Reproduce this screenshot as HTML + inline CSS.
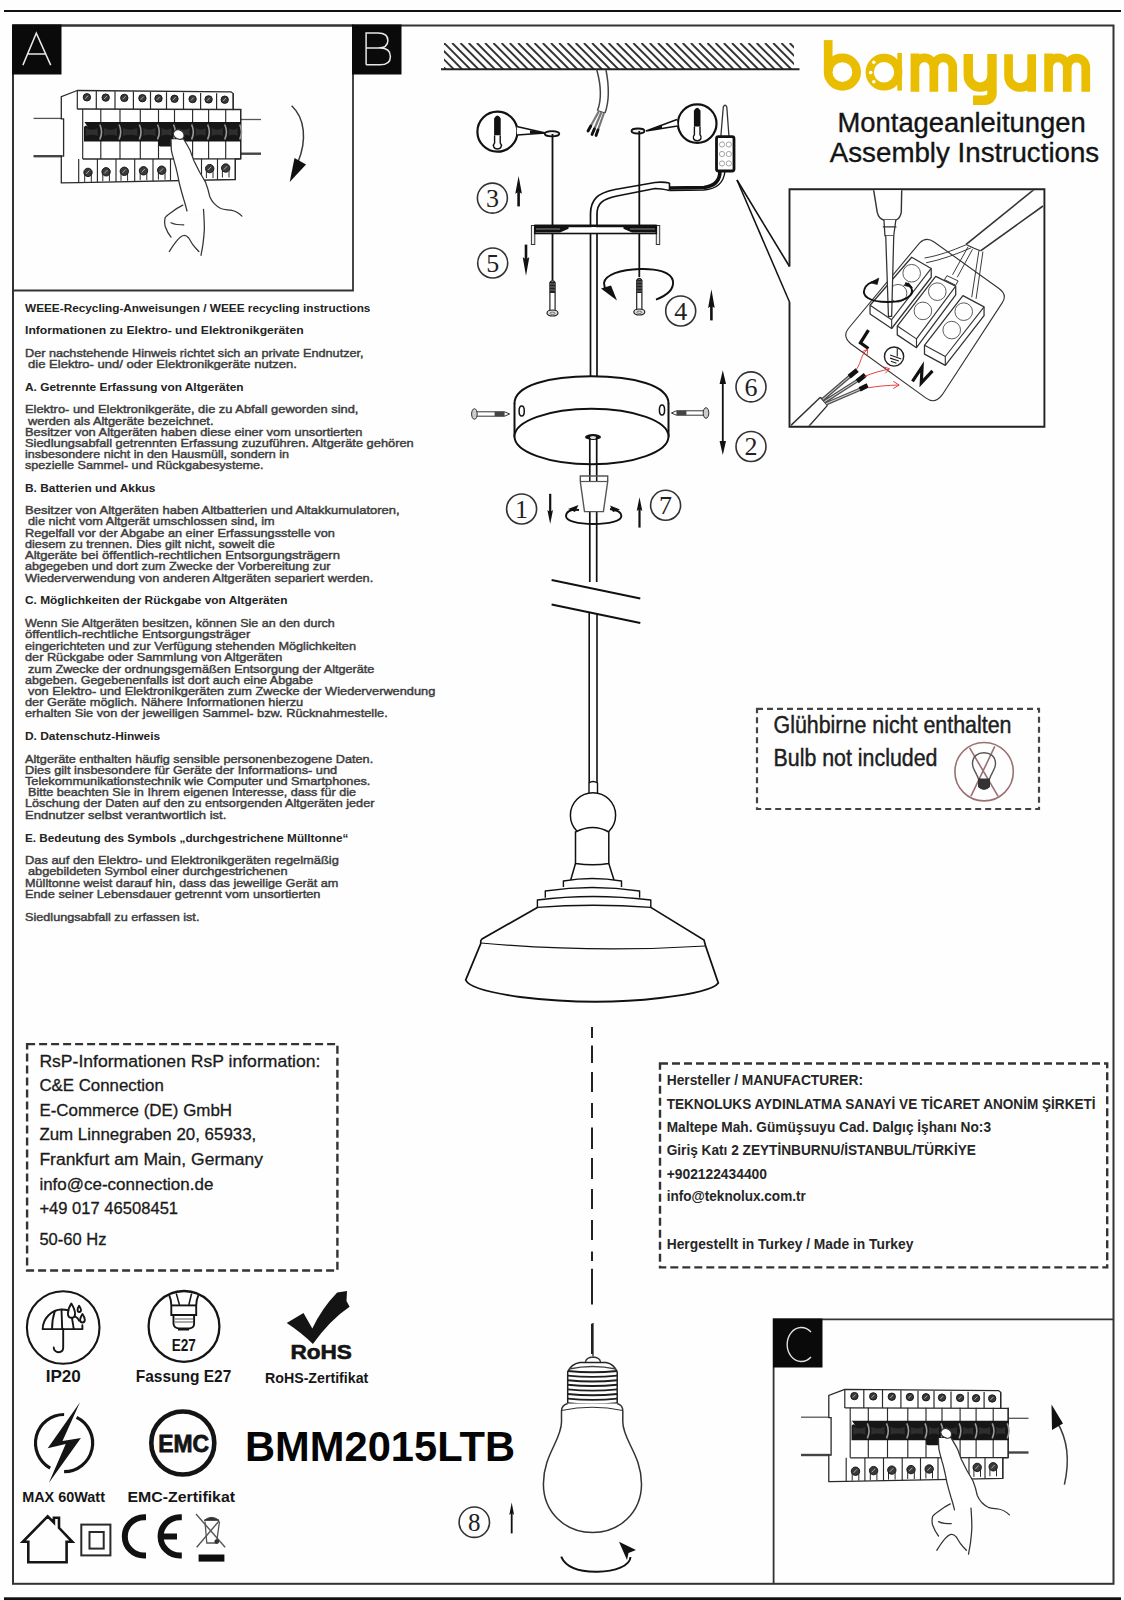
<!DOCTYPE html>
<html><head><meta charset="utf-8"><style>
html,body{margin:0;padding:0;background:#fff;width:1124px;height:1600px;overflow:hidden;}
svg{position:absolute;left:0;top:0;}
</style></head><body>
<svg width="1124" height="1600" viewBox="0 0 1124 1600" font-family="Liberation Sans">
<rect width="1124" height="1600" fill="#fefefe"/>
<line x1="4" y1="11" x2="1121" y2="11" stroke="#111" stroke-width="2.2"/>
<rect x="13" y="25.5" width="1100.5" height="1558.3" fill="none" stroke="#333" stroke-width="2"/>
<rect x="4" y="1597.3" width="1117" height="4" fill="#111"/>
<polyline points="13,25.5 353,25.5 353,290.5 13,290.5" fill="none" stroke="#333" stroke-width="1.8"/>
<rect x="12" y="24.5" width="49.5" height="50" fill="#0a0a0a"/>
<path d="M22.9,65.1 L36.3,33.1 L50.7,65.1 M27.2,53.9 L46.4,53.9" fill="none" stroke="#e8e8e8" stroke-width="1.5"/>
<rect x="352" y="24.5" width="49.5" height="50" fill="#0a0a0a"/>
<path d="M366.1,64.8 L366.1,33.1 L378,33.1 Q387.9,33.1 387.9,40.5 Q387.9,48 378,48 L366.1,48 M378,48 L380,48 Q390.4,48 390.4,56.4 Q390.4,64.8 380,64.8 L366.1,64.8" fill="none" stroke="#e8e8e8" stroke-width="1.5"/>
<g transform="translate(0,0) scale(1.0)">
<line x1="33.5" y1="118.4" x2="62" y2="118.4" stroke="#555" stroke-width="1.3"/>
<line x1="33.5" y1="156.2" x2="62" y2="156.2" stroke="#444" stroke-width="2.4"/>
<line x1="240.7" y1="119.5" x2="261" y2="119.5" stroke="#555" stroke-width="1.3"/>
<line x1="240.7" y1="153.7" x2="261" y2="153.7" stroke="#444" stroke-width="2.4"/>
<path d="M77.3,90.5 L61.3,96.6 L61.3,118.8 L63.6,118.8 L63.6,156.2 L61.3,156.2 L61.3,182.9 L78.7,182.6 L235.3,179.5 L235.3,159 L240.7,158.8 L240.7,109.5 L233.2,109.5 L233.2,93.5 L231,91.8 Z" fill="#fff" stroke="#2a2a2a" stroke-width="1.3"/>
<line x1="77.3" y1="109" x2="233.2" y2="109.5" stroke="#2a2a2a" stroke-width="1.3"/>
<line x1="77.3" y1="90.5" x2="77.3" y2="109.2" stroke="#2a2a2a" stroke-width="1.2"/>
<line x1="96.3" y1="90.8" x2="96.3" y2="109.2" stroke="#2a2a2a" stroke-width="1.2"/>
<line x1="115" y1="91.2" x2="115" y2="109.2" stroke="#2a2a2a" stroke-width="1.2"/>
<line x1="133.4" y1="91.5" x2="133.4" y2="109.2" stroke="#2a2a2a" stroke-width="1.2"/>
<line x1="150.5" y1="91.9" x2="150.5" y2="109.2" stroke="#2a2a2a" stroke-width="1.2"/>
<line x1="166.5" y1="92.2" x2="166.5" y2="109.2" stroke="#2a2a2a" stroke-width="1.2"/>
<line x1="183.5" y1="92.6" x2="183.5" y2="109.2" stroke="#2a2a2a" stroke-width="1.2"/>
<line x1="200.6" y1="93.0" x2="200.6" y2="109.2" stroke="#2a2a2a" stroke-width="1.2"/>
<line x1="216.6" y1="93.3" x2="216.6" y2="109.2" stroke="#2a2a2a" stroke-width="1.2"/>
<line x1="233.2" y1="93.7" x2="233.2" y2="109.2" stroke="#2a2a2a" stroke-width="1.2"/>
<circle cx="86.9" cy="97.3" r="3.7" fill="#3a3a3a" stroke="#111" stroke-width="0.9"/>
<path d="M85.3,98.7 L88.1,95.7" stroke="#bbb" stroke-width="0.9"/>
<circle cx="105.7" cy="97.6" r="3.7" fill="#3a3a3a" stroke="#111" stroke-width="0.9"/>
<path d="M104.1,99.0 L106.9,96.0" stroke="#bbb" stroke-width="0.9"/>
<circle cx="124.3" cy="97.9" r="3.7" fill="#3a3a3a" stroke="#111" stroke-width="0.9"/>
<path d="M122.7,99.3 L125.5,96.3" stroke="#bbb" stroke-width="0.9"/>
<circle cx="142.4" cy="98.2" r="3.7" fill="#3a3a3a" stroke="#111" stroke-width="0.9"/>
<path d="M140.8,99.6 L143.6,96.6" stroke="#bbb" stroke-width="0.9"/>
<circle cx="158.5" cy="98.5" r="3.7" fill="#3a3a3a" stroke="#111" stroke-width="0.9"/>
<path d="M156.9,99.9 L159.7,96.9" stroke="#bbb" stroke-width="0.9"/>
<circle cx="174.5" cy="98.8" r="3.7" fill="#3a3a3a" stroke="#111" stroke-width="0.9"/>
<path d="M172.9,100.2 L175.7,97.2" stroke="#bbb" stroke-width="0.9"/>
<circle cx="192.6" cy="99.1" r="3.7" fill="#3a3a3a" stroke="#111" stroke-width="0.9"/>
<path d="M191.0,100.5 L193.8,97.5" stroke="#bbb" stroke-width="0.9"/>
<circle cx="208.6" cy="99.4" r="3.7" fill="#3a3a3a" stroke="#111" stroke-width="0.9"/>
<path d="M207.0,100.8 L209.8,97.8" stroke="#bbb" stroke-width="0.9"/>
<circle cx="224.7" cy="99.7" r="3.7" fill="#3a3a3a" stroke="#111" stroke-width="0.9"/>
<path d="M223.1,101.1 L225.9,98.1" stroke="#bbb" stroke-width="0.9"/>
<line x1="82.7" y1="159" x2="240.7" y2="158.8" stroke="#2a2a2a" stroke-width="1.3"/>
<line x1="82.7" y1="109" x2="82.7" y2="159" stroke="#2a2a2a" stroke-width="1.15"/>
<line x1="100.8" y1="109" x2="100.8" y2="159" stroke="#2a2a2a" stroke-width="1.15"/>
<line x1="120" y1="109" x2="120" y2="159" stroke="#2a2a2a" stroke-width="1.15"/>
<line x1="140.3" y1="109" x2="140.3" y2="159" stroke="#2a2a2a" stroke-width="1.15"/>
<line x1="158.5" y1="109" x2="158.5" y2="159" stroke="#2a2a2a" stroke-width="1.15"/>
<line x1="174.5" y1="109" x2="174.5" y2="159" stroke="#2a2a2a" stroke-width="1.15"/>
<line x1="192.6" y1="109" x2="192.6" y2="159" stroke="#2a2a2a" stroke-width="1.15"/>
<line x1="208.6" y1="109" x2="208.6" y2="159" stroke="#2a2a2a" stroke-width="1.15"/>
<line x1="225.7" y1="109" x2="225.7" y2="159" stroke="#2a2a2a" stroke-width="1.15"/>
<line x1="240.7" y1="109" x2="240.7" y2="159" stroke="#2a2a2a" stroke-width="1.15"/>
<path d="M84,122 L241,122 L241,141.5 L84,141.5 Z" fill="#161616"/>
<path d="M85.7,128 Q91.8,131.5 97.8,128 L97.8,136 Q91.8,133.5 85.7,136 Z" fill="#2e2e2e"/>
<path d="M99.8,124.5 Q103.3,131.8 99.8,139.5" fill="none" stroke="#9a9a9a" stroke-width="1.6"/>
<path d="M103.8,128 Q110.4,131.5 117.0,128 L117.0,136 Q110.4,133.5 103.8,136 Z" fill="#2e2e2e"/>
<path d="M119.0,124.5 Q122.5,131.8 119.0,139.5" fill="none" stroke="#9a9a9a" stroke-width="1.6"/>
<path d="M123.0,128 Q130.2,131.5 137.3,128 L137.3,136 Q130.2,133.5 123.0,136 Z" fill="#2e2e2e"/>
<path d="M139.3,124.5 Q142.8,131.8 139.3,139.5" fill="none" stroke="#9a9a9a" stroke-width="1.6"/>
<path d="M143.3,128 Q149.4,131.5 155.5,128 L155.5,136 Q149.4,133.5 143.3,136 Z" fill="#2e2e2e"/>
<path d="M157.5,124.5 Q161.0,131.8 157.5,139.5" fill="none" stroke="#9a9a9a" stroke-width="1.6"/>
<path d="M161.5,128 Q166.5,131.5 171.5,128 L171.5,136 Q166.5,133.5 161.5,136 Z" fill="#2e2e2e"/>
<path d="M173.5,124.5 Q177.0,131.8 173.5,139.5" fill="none" stroke="#9a9a9a" stroke-width="1.6"/>
<path d="M177.5,128 Q183.6,131.5 189.6,128 L189.6,136 Q183.6,133.5 177.5,136 Z" fill="#2e2e2e"/>
<path d="M191.6,124.5 Q195.1,131.8 191.6,139.5" fill="none" stroke="#9a9a9a" stroke-width="1.6"/>
<path d="M195.6,128 Q200.6,131.5 205.6,128 L205.6,136 Q200.6,133.5 195.6,136 Z" fill="#2e2e2e"/>
<path d="M207.6,124.5 Q211.1,131.8 207.6,139.5" fill="none" stroke="#9a9a9a" stroke-width="1.6"/>
<path d="M211.6,128 Q217.1,131.5 222.7,128 L222.7,136 Q217.1,133.5 211.6,136 Z" fill="#2e2e2e"/>
<path d="M224.7,124.5 Q228.2,131.8 224.7,139.5" fill="none" stroke="#9a9a9a" stroke-width="1.6"/>
<path d="M228.7,128 Q233.2,131.5 237.7,128 L237.7,136 Q233.2,133.5 228.7,136 Z" fill="#2e2e2e"/>
<path d="M239.7,124.5 Q243.2,131.8 239.7,139.5" fill="none" stroke="#9a9a9a" stroke-width="1.6"/>
<path d="M84,121.5 L84,127 Q86,124 88,127" fill="#fff"/>
<rect x="158.5" y="138" width="16" height="8.5" rx="2" fill="#161616"/>
<line x1="78.7" y1="159" x2="78.7" y2="182.6" stroke="#2a2a2a" stroke-width="1.15"/>
<line x1="97.4" y1="159" x2="97.4" y2="182.3" stroke="#2a2a2a" stroke-width="1.15"/>
<line x1="116" y1="159" x2="116" y2="181.9" stroke="#2a2a2a" stroke-width="1.15"/>
<line x1="134.7" y1="159" x2="134.7" y2="181.6" stroke="#2a2a2a" stroke-width="1.15"/>
<line x1="153" y1="159" x2="153" y2="181.3" stroke="#2a2a2a" stroke-width="1.15"/>
<line x1="170.5" y1="159" x2="170.5" y2="180.9" stroke="#2a2a2a" stroke-width="1.15"/>
<line x1="188" y1="159" x2="188" y2="180.6" stroke="#2a2a2a" stroke-width="1.15"/>
<line x1="201.5" y1="159" x2="201.5" y2="180.3" stroke="#2a2a2a" stroke-width="1.15"/>
<line x1="217.5" y1="159" x2="217.5" y2="180.0" stroke="#2a2a2a" stroke-width="1.15"/>
<line x1="235.3" y1="159" x2="235.3" y2="179.6" stroke="#2a2a2a" stroke-width="1.15"/>
<path d="M84.7,172.4 L84.7,181.9 M91.3,172.4 L91.3,181.9" stroke="#2a2a2a" stroke-width="1"/>
<circle cx="88" cy="172.4" r="4.2" fill="#3a3a3a" stroke="#111" stroke-width="0.9"/>
<path d="M86.2,174.0 L89.4,170.6" stroke="#bbb" stroke-width="0.9"/>
<path d="M102.8,171.8 L102.8,181.3 M109.4,171.8 L109.4,181.3" stroke="#2a2a2a" stroke-width="1"/>
<circle cx="106.1" cy="171.8" r="4.2" fill="#3a3a3a" stroke="#111" stroke-width="0.9"/>
<path d="M104.3,173.4 L107.5,170.0" stroke="#bbb" stroke-width="0.9"/>
<path d="M121.0,171.3 L121.0,180.8 M127.6,171.3 L127.6,180.8" stroke="#2a2a2a" stroke-width="1"/>
<circle cx="124.3" cy="171.3" r="4.2" fill="#3a3a3a" stroke="#111" stroke-width="0.9"/>
<path d="M122.5,172.9 L125.7,169.5" stroke="#bbb" stroke-width="0.9"/>
<path d="M140.2,170.8 L140.2,180.2 M146.8,170.8 L146.8,180.2" stroke="#2a2a2a" stroke-width="1"/>
<circle cx="143.5" cy="170.8" r="4.2" fill="#3a3a3a" stroke="#111" stroke-width="0.9"/>
<path d="M141.7,172.3 L144.9,168.9" stroke="#bbb" stroke-width="0.9"/>
<path d="M158.4,170.2 L158.4,179.7 M165.0,170.2 L165.0,179.7" stroke="#2a2a2a" stroke-width="1"/>
<circle cx="161.7" cy="170.2" r="4.2" fill="#3a3a3a" stroke="#111" stroke-width="0.9"/>
<path d="M159.9,171.8 L163.1,168.4" stroke="#bbb" stroke-width="0.9"/>
<path d="M206.4,168.6 L206.4,178.1 M213.0,168.6 L213.0,178.1" stroke="#2a2a2a" stroke-width="1"/>
<circle cx="209.7" cy="168.6" r="4.2" fill="#3a3a3a" stroke="#111" stroke-width="0.9"/>
<path d="M207.9,170.2 L211.1,166.8" stroke="#bbb" stroke-width="0.9"/>
<path d="M222.4,168.0 L222.4,177.5 M229.0,168.0 L229.0,177.5" stroke="#2a2a2a" stroke-width="1"/>
<circle cx="225.7" cy="168.0" r="4.2" fill="#3a3a3a" stroke="#111" stroke-width="0.9"/>
<path d="M223.9,169.6 L227.1,166.2" stroke="#bbb" stroke-width="0.9"/>
<path d="M171,139.3 L171.4,150.3 L174.4,162.1 L177.8,175.6 L179.5,184 L183.7,199.2 L187,211 L203.5,209.3 L214,203.4 L209.8,196.7 L205.6,182.4 L199.7,172.2 L193.8,160.4 L190.4,151.1 L183.7,139.3 Z" fill="#fff"/>
<path d="M171,139.3 C171,144 171.2,148 171.4,150.3 C172.3,155 173.5,158.5 174.4,162.1 C176,167 177,172 177.8,175.6 C178.5,179 179,182 179.5,184 C181,190 182.3,194.5 183.7,199.2 C185,203 186,207 187,211" fill="none" stroke="#333" stroke-width="1.25" stroke-linecap="round"/>
<path d="M183.7,139.3 C186,143 188.5,147 190.4,151.1 C191.6,154.5 192.6,157.5 193.8,160.4 C195.8,164.5 197.7,168.5 199.7,172.2 C202,176 204,179.5 205.6,182.4 C207.5,187 208.8,192 209.8,196.7 C211,199.5 212.3,201.5 214,203.4 C216,205.5 218,207.3 220.8,208.5 C224,209.6 227,209.6 230.9,210.2 C235,211 239,213 241.9,216.1" fill="none" stroke="#333" stroke-width="1.25" stroke-linecap="round"/>
<path d="M182.8,205.1 C178,207.5 175,209.5 171.9,211.9 C168.5,214.5 166,216 165.1,217.8 C164.3,221 164.5,224 165.1,226.2 C166.5,230 168.5,234 171,237.2" fill="none" stroke="#333" stroke-width="1.25" stroke-linecap="round"/>
<path d="M171,222.8 C173,223.8 175,224.3 176.9,224.5 C179,224.7 181.5,224.9 183.7,224.9" fill="none" stroke="#333" stroke-width="1.25" stroke-linecap="round"/>
<path d="M169.3,251.5 C171.5,248 174,244 176.9,240.6 C179,238 181.5,235.8 183.7,235.5 C186,235.3 187.5,236.5 188.7,238 C190.5,240.5 191.5,243 193,244.8 C195,247.5 197,249.5 198.9,251.5" fill="none" stroke="#333" stroke-width="1.25" stroke-linecap="round"/>
<path d="M203.5,209.3 C204,217 204.5,224 204.3,230.4 C204,235 203.6,239 203.1,243.1 C202.6,247 201.8,251 201,255.3" fill="none" stroke="#333" stroke-width="1.25" stroke-linecap="round"/>
<path d="M173.2,133.5 Q175,128.8 179.5,130 Q184.5,131.5 184,136.5 Q183,140 179,139.3 Q174,138 173.2,133.5 Z" fill="#fff" stroke="#333" stroke-width="1.1"/>
</g>
<path d="M291.6,105.7 C305,118 307,140 298,162" fill="none" stroke="#3a3a3a" stroke-width="1.5"/>
<path d="M289.7,182 L294.5,158 L306,164.5 Z" fill="#111"/>
<text x="25.0" y="312.0" font-size="11.8" font-family="Liberation Sans" font-weight="bold" fill="#222" textLength="345.4" lengthAdjust="spacingAndGlyphs" >WEEE-Recycling-Anweisungen / WEEE recycling instructions</text>
<text x="25.0" y="334.0" font-size="11.8" font-family="Liberation Sans" font-weight="bold" fill="#222" textLength="278.6" lengthAdjust="spacingAndGlyphs" >Informationen zu Elektro- und Elektronikgeräten</text>
<text x="25.0" y="357.0" font-size="11.6" font-family="Liberation Sans" fill="#3e3e3e" textLength="338.6" lengthAdjust="spacingAndGlyphs" stroke="#3e3e3e" stroke-width="0.45">Der nachstehende Hinweis richtet sich an private Endnutzer,</text>
<text x="28.0" y="368.0" font-size="11.6" font-family="Liberation Sans" fill="#3e3e3e" textLength="269.0" lengthAdjust="spacingAndGlyphs" stroke="#3e3e3e" stroke-width="0.45">die Elektro- und/ oder Elektronikgeräte nutzen.</text>
<text x="25.0" y="391.0" font-size="11.8" font-family="Liberation Sans" font-weight="bold" fill="#222" textLength="218.5" lengthAdjust="spacingAndGlyphs" >A. Getrennte Erfassung von Altgeräten</text>
<text x="25.0" y="413.0" font-size="11.6" font-family="Liberation Sans" fill="#3e3e3e" textLength="333.4" lengthAdjust="spacingAndGlyphs" stroke="#3e3e3e" stroke-width="0.45">Elektro- und Elektronikgeräte, die zu Abfall geworden sind,</text>
<text x="28.0" y="424.6" font-size="11.6" font-family="Liberation Sans" fill="#3e3e3e" textLength="185.5" lengthAdjust="spacingAndGlyphs" stroke="#3e3e3e" stroke-width="0.45">werden als Altgeräte bezeichnet.</text>
<text x="25.0" y="435.8" font-size="11.6" font-family="Liberation Sans" fill="#3e3e3e" textLength="337.4" lengthAdjust="spacingAndGlyphs" stroke="#3e3e3e" stroke-width="0.45">Besitzer von Altgeräten haben diese einer vom unsortierten</text>
<text x="25.0" y="446.6" font-size="11.6" font-family="Liberation Sans" fill="#3e3e3e" textLength="388.7" lengthAdjust="spacingAndGlyphs" stroke="#3e3e3e" stroke-width="0.45">Siedlungsabfall getrennten Erfassung zuzuführen. Altgeräte gehören</text>
<text x="25.0" y="457.8" font-size="11.6" font-family="Liberation Sans" fill="#3e3e3e" textLength="264.0" lengthAdjust="spacingAndGlyphs" stroke="#3e3e3e" stroke-width="0.45">insbesondere nicht in den Hausmüll, sondern in</text>
<text x="25.0" y="469.0" font-size="11.6" font-family="Liberation Sans" fill="#3e3e3e" textLength="238.5" lengthAdjust="spacingAndGlyphs" stroke="#3e3e3e" stroke-width="0.45">spezielle Sammel- und Rückgabesysteme.</text>
<text x="25.0" y="491.5" font-size="11.8" font-family="Liberation Sans" font-weight="bold" fill="#222" textLength="130.4" lengthAdjust="spacingAndGlyphs" >B. Batterien und Akkus</text>
<text x="25.0" y="514.0" font-size="11.6" font-family="Liberation Sans" fill="#3e3e3e" textLength="374.7" lengthAdjust="spacingAndGlyphs" stroke="#3e3e3e" stroke-width="0.45">Besitzer von Altgeräten haben Altbatterien und Altakkumulatoren,</text>
<text x="28.0" y="525.0" font-size="11.6" font-family="Liberation Sans" fill="#3e3e3e" textLength="246.7" lengthAdjust="spacingAndGlyphs" stroke="#3e3e3e" stroke-width="0.45">die nicht vom Altgerät umschlossen sind, im</text>
<text x="25.0" y="536.7" font-size="11.6" font-family="Liberation Sans" fill="#3e3e3e" textLength="309.8" lengthAdjust="spacingAndGlyphs" stroke="#3e3e3e" stroke-width="0.45">Regelfall vor der Abgabe an einer Erfassungsstelle von</text>
<text x="25.0" y="547.5" font-size="11.6" font-family="Liberation Sans" fill="#3e3e3e" textLength="249.7" lengthAdjust="spacingAndGlyphs" stroke="#3e3e3e" stroke-width="0.45">diesem zu trennen. Dies gilt nicht, soweit die</text>
<text x="25.0" y="559.0" font-size="11.6" font-family="Liberation Sans" fill="#3e3e3e" textLength="315.0" lengthAdjust="spacingAndGlyphs" stroke="#3e3e3e" stroke-width="0.45">Altgeräte bei öffentlich-rechtlichen Entsorgungsträgern</text>
<text x="25.0" y="570.0" font-size="11.6" font-family="Liberation Sans" fill="#3e3e3e" textLength="305.4" lengthAdjust="spacingAndGlyphs" stroke="#3e3e3e" stroke-width="0.45">abgegeben und dort zum Zwecke der Vorbereitung zur</text>
<text x="25.0" y="581.6" font-size="11.6" font-family="Liberation Sans" fill="#3e3e3e" textLength="348.2" lengthAdjust="spacingAndGlyphs" stroke="#3e3e3e" stroke-width="0.45">Wiederverwendung von anderen Altgeräten separiert werden.</text>
<text x="25.0" y="604.2" font-size="11.8" font-family="Liberation Sans" font-weight="bold" fill="#222" textLength="262.5" lengthAdjust="spacingAndGlyphs" >C. Möglichkeiten der Rückgabe von Altgeräten</text>
<text x="25.0" y="627.0" font-size="11.6" font-family="Liberation Sans" fill="#3e3e3e" textLength="309.8" lengthAdjust="spacingAndGlyphs" stroke="#3e3e3e" stroke-width="0.45">Wenn Sie Altgeräten besitzen, können Sie an den durch</text>
<text x="25.0" y="638.4" font-size="11.6" font-family="Liberation Sans" fill="#3e3e3e" textLength="225.3" lengthAdjust="spacingAndGlyphs" stroke="#3e3e3e" stroke-width="0.45">öffentlich-rechtliche Entsorgungsträger</text>
<text x="25.0" y="649.7" font-size="11.6" font-family="Liberation Sans" fill="#3e3e3e" textLength="331.0" lengthAdjust="spacingAndGlyphs" stroke="#3e3e3e" stroke-width="0.45">eingerichteten und zur Verfügung stehenden Möglichkeiten</text>
<text x="25.0" y="661.0" font-size="11.6" font-family="Liberation Sans" fill="#3e3e3e" textLength="257.3" lengthAdjust="spacingAndGlyphs" stroke="#3e3e3e" stroke-width="0.45">der Rückgabe oder Sammlung von Altgeräten</text>
<text x="28.0" y="672.5" font-size="11.6" font-family="Liberation Sans" fill="#3e3e3e" textLength="346.4" lengthAdjust="spacingAndGlyphs" stroke="#3e3e3e" stroke-width="0.45">zum Zwecke der ordnungsgemäßen Entsorgung der Altgeräte</text>
<text x="25.0" y="683.7" font-size="11.6" font-family="Liberation Sans" fill="#3e3e3e" textLength="288.0" lengthAdjust="spacingAndGlyphs" stroke="#3e3e3e" stroke-width="0.45">abgeben. Gegebenenfalls ist dort auch eine Abgabe</text>
<text x="28.0" y="695.0" font-size="11.6" font-family="Liberation Sans" fill="#3e3e3e" textLength="407.3" lengthAdjust="spacingAndGlyphs" stroke="#3e3e3e" stroke-width="0.45">von Elektro- und Elektronikgeräten zum Zwecke der Wiederverwendung</text>
<text x="25.0" y="706.0" font-size="11.6" font-family="Liberation Sans" fill="#3e3e3e" textLength="278.2" lengthAdjust="spacingAndGlyphs" stroke="#3e3e3e" stroke-width="0.45">der Geräte möglich. Nähere Informationen hierzu</text>
<text x="25.0" y="717.3" font-size="11.6" font-family="Liberation Sans" fill="#3e3e3e" textLength="362.7" lengthAdjust="spacingAndGlyphs" stroke="#3e3e3e" stroke-width="0.45">erhalten Sie von der jeweiligen Sammel- bzw. Rücknahmestelle.</text>
<text x="25.0" y="739.8" font-size="11.8" font-family="Liberation Sans" font-weight="bold" fill="#222" textLength="135.2" lengthAdjust="spacingAndGlyphs" >D. Datenschutz-Hinweis</text>
<text x="25.0" y="762.6" font-size="11.6" font-family="Liberation Sans" fill="#3e3e3e" textLength="348.2" lengthAdjust="spacingAndGlyphs" stroke="#3e3e3e" stroke-width="0.45">Altgeräte enthalten häufig sensible personenbezogene Daten.</text>
<text x="25.0" y="773.8" font-size="11.6" font-family="Liberation Sans" fill="#3e3e3e" textLength="312.2" lengthAdjust="spacingAndGlyphs" stroke="#3e3e3e" stroke-width="0.45">Dies gilt insbesondere für Geräte der Informations- und</text>
<text x="25.0" y="785.0" font-size="11.6" font-family="Liberation Sans" fill="#3e3e3e" textLength="345.4" lengthAdjust="spacingAndGlyphs" stroke="#3e3e3e" stroke-width="0.45">Telekommunikationstechnik wie Computer und Smartphones.</text>
<text x="28.0" y="796.0" font-size="11.6" font-family="Liberation Sans" fill="#3e3e3e" textLength="328.0" lengthAdjust="spacingAndGlyphs" stroke="#3e3e3e" stroke-width="0.45">Bitte beachten Sie in Ihrem eigenen Interesse, dass für die</text>
<text x="25.0" y="807.4" font-size="11.6" font-family="Liberation Sans" fill="#3e3e3e" textLength="349.4" lengthAdjust="spacingAndGlyphs" stroke="#3e3e3e" stroke-width="0.45">Löschung der Daten auf den zu entsorgenden Altgeräten jeder</text>
<text x="25.0" y="819.0" font-size="11.6" font-family="Liberation Sans" fill="#3e3e3e" textLength="201.3" lengthAdjust="spacingAndGlyphs" stroke="#3e3e3e" stroke-width="0.45">Endnutzer selbst verantwortlich ist.</text>
<text x="25.0" y="842.0" font-size="11.8" font-family="Liberation Sans" font-weight="bold" fill="#222" textLength="323.4" lengthAdjust="spacingAndGlyphs" >E. Bedeutung des Symbols „durchgestrichene Mülltonne“</text>
<text x="25.0" y="864.3" font-size="11.6" font-family="Liberation Sans" fill="#3e3e3e" textLength="313.8" lengthAdjust="spacingAndGlyphs" stroke="#3e3e3e" stroke-width="0.45">Das auf den Elektro- und Elektronikgeräten regelmäßig</text>
<text x="28.0" y="875.0" font-size="11.6" font-family="Liberation Sans" fill="#3e3e3e" textLength="259.5" lengthAdjust="spacingAndGlyphs" stroke="#3e3e3e" stroke-width="0.45">abgebildeten Symbol einer durchgestrichenen</text>
<text x="25.0" y="886.7" font-size="11.6" font-family="Liberation Sans" fill="#3e3e3e" textLength="313.4" lengthAdjust="spacingAndGlyphs" stroke="#3e3e3e" stroke-width="0.45">Mülltonne weist darauf hin, dass das jeweilige Gerät am</text>
<text x="25.0" y="898.0" font-size="11.6" font-family="Liberation Sans" fill="#3e3e3e" textLength="295.4" lengthAdjust="spacingAndGlyphs" stroke="#3e3e3e" stroke-width="0.45">Ende seiner Lebensdauer getrennt vom unsortierten</text>
<text x="25.0" y="920.8" font-size="11.6" font-family="Liberation Sans" fill="#3e3e3e" textLength="174.4" lengthAdjust="spacingAndGlyphs" stroke="#3e3e3e" stroke-width="0.45">Siedlungsabfall zu erfassen ist.</text>
<clipPath id="hc"><rect x="444" y="43" width="350" height="26.5"/></clipPath>
<g clip-path="url(#hc)" stroke="#333" stroke-width="1.9"><line x1="411.1" y1="43" x2="437.6" y2="69.5"/><line x1="419.3" y1="43" x2="445.8" y2="69.5"/><line x1="427.5" y1="43" x2="454.0" y2="69.5"/><line x1="435.8" y1="43" x2="462.3" y2="69.5"/><line x1="444.0" y1="43" x2="470.5" y2="69.5"/><line x1="452.2" y1="43" x2="478.7" y2="69.5"/><line x1="460.5" y1="43" x2="487.0" y2="69.5"/><line x1="468.7" y1="43" x2="495.2" y2="69.5"/><line x1="476.9" y1="43" x2="503.4" y2="69.5"/><line x1="485.1" y1="43" x2="511.6" y2="69.5"/><line x1="493.4" y1="43" x2="519.9" y2="69.5"/><line x1="501.6" y1="43" x2="528.1" y2="69.5"/><line x1="509.8" y1="43" x2="536.3" y2="69.5"/><line x1="518.1" y1="43" x2="544.6" y2="69.5"/><line x1="526.3" y1="43" x2="552.8" y2="69.5"/><line x1="534.5" y1="43" x2="561.0" y2="69.5"/><line x1="542.8" y1="43" x2="569.3" y2="69.5"/><line x1="551.0" y1="43" x2="577.5" y2="69.5"/><line x1="559.2" y1="43" x2="585.7" y2="69.5"/><line x1="567.5" y1="43" x2="594.0" y2="69.5"/><line x1="575.7" y1="43" x2="602.2" y2="69.5"/><line x1="583.9" y1="43" x2="610.4" y2="69.5"/><line x1="592.1" y1="43" x2="618.6" y2="69.5"/><line x1="600.4" y1="43" x2="626.9" y2="69.5"/><line x1="608.6" y1="43" x2="635.1" y2="69.5"/><line x1="616.8" y1="43" x2="643.3" y2="69.5"/><line x1="625.1" y1="43" x2="651.6" y2="69.5"/><line x1="633.3" y1="43" x2="659.8" y2="69.5"/><line x1="641.5" y1="43" x2="668.0" y2="69.5"/><line x1="649.8" y1="43" x2="676.2" y2="69.5"/><line x1="658.0" y1="43" x2="684.5" y2="69.5"/><line x1="666.2" y1="43" x2="692.7" y2="69.5"/><line x1="674.4" y1="43" x2="700.9" y2="69.5"/><line x1="682.7" y1="43" x2="709.2" y2="69.5"/><line x1="690.9" y1="43" x2="717.4" y2="69.5"/><line x1="699.1" y1="43" x2="725.6" y2="69.5"/><line x1="707.4" y1="43" x2="733.9" y2="69.5"/><line x1="715.6" y1="43" x2="742.1" y2="69.5"/><line x1="723.8" y1="43" x2="750.3" y2="69.5"/><line x1="732.0" y1="43" x2="758.5" y2="69.5"/><line x1="740.3" y1="43" x2="766.8" y2="69.5"/><line x1="748.5" y1="43" x2="775.0" y2="69.5"/><line x1="756.7" y1="43" x2="783.2" y2="69.5"/><line x1="765.0" y1="43" x2="791.5" y2="69.5"/><line x1="773.2" y1="43" x2="799.7" y2="69.5"/><line x1="781.4" y1="43" x2="807.9" y2="69.5"/><line x1="789.7" y1="43" x2="816.2" y2="69.5"/><line x1="797.9" y1="43" x2="824.4" y2="69.5"/><line x1="806.1" y1="43" x2="832.6" y2="69.5"/></g>
<line x1="441" y1="69.3" x2="799.5" y2="69.3" stroke="#222" stroke-width="2"/>
<path d="M596.8,70 C601,85 601.5,100 597.5,110.5" fill="none" stroke="#444" stroke-width="1.5"/>
<path d="M606,70 C609.5,88 609,102 605,113" fill="none" stroke="#444" stroke-width="1.5"/>
<line x1="597.5" y1="110.5" x2="605" y2="113" stroke="#444" stroke-width="1.2"/>
<line x1="599" y1="111" x2="588" y2="131" stroke="#777" stroke-width="2.2"/>
<line x1="590.8" y1="126.0" x2="588" y2="131" stroke="#111" stroke-width="2.8" stroke-linecap="round"/>
<line x1="601.5" y1="112" x2="592" y2="134.5" stroke="#777" stroke-width="2.2"/>
<line x1="594.4" y1="128.9" x2="592" y2="134.5" stroke="#111" stroke-width="2.8" stroke-linecap="round"/>
<line x1="604" y1="113" x2="596" y2="135.5" stroke="#777" stroke-width="2.2"/>
<line x1="598.0" y1="129.9" x2="596" y2="135.5" stroke="#111" stroke-width="2.8" stroke-linecap="round"/>
<circle cx="497.4" cy="131.7" r="20" fill="#fff" stroke="#111" stroke-width="2.2"/>
<path d="M494.09999999999997,118.5 Q497.4,112.5 500.7,118.5 L500.7,135.5 L494.09999999999997,135.5 Z" fill="#111"/>
<path d="M494.59999999999997,135.5 L494.59999999999997,143 C492.4,145 493.4,149 497.4,149 C501.4,149 502.4,145 500.2,143 L500.2,135.5" fill="#fff" stroke="#111" stroke-width="1.4"/>
<path d="M516.7,126.5 L545.5,133 L517.2,135" fill="#fff" stroke="#111" stroke-width="1.6"/>
<path d="M530,130.2 L545.5,133 L530,133.8 Z" fill="#111"/>
<ellipse cx="552" cy="133.8" rx="7.3" ry="2.6" fill="#eee" stroke="#111" stroke-width="1.8"/>
<line x1="552.5" y1="134" x2="552.5" y2="280" stroke="#111" stroke-width="1.8"/>
<circle cx="697.2" cy="123.6" r="19.3" fill="#fff" stroke="#111" stroke-width="2.2"/>
<path d="M693.9000000000001,110.8 Q697.2,104.8 700.5,110.8 L700.5,126.7 L693.9000000000001,126.7 Z" fill="#111"/>
<path d="M694.4000000000001,126.7 L694.4000000000001,134.8 C692.2,136.8 693.2,140.8 697.2,140.8 C701.2,140.8 702.2,136.8 700.0,134.8 L700.0,126.7" fill="#fff" stroke="#111" stroke-width="1.4"/>
<path d="M677,119.5 L646,131 L677.5,126" fill="#fff" stroke="#111" stroke-width="1.6"/>
<path d="M662,125.2 L646,131 L662,128.6 Z" fill="#111"/>
<ellipse cx="638" cy="131" rx="6.5" ry="2.5" fill="#eee" stroke="#111" stroke-width="1.8"/>
<line x1="639.3" y1="131" x2="639.3" y2="277" stroke="#111" stroke-width="1.8"/>
<path d="M720.8,137 L723.3,107 Q725,103.5 726.8,107 L729,137" fill="#fff" stroke="#333" stroke-width="1.3"/>
<rect x="716.5" y="136.7" width="17.5" height="34.3" rx="2" fill="#fff" stroke="#111" stroke-width="2.8"/>
<circle cx="722" cy="144.5" r="2.6" fill="none" stroke="#999" stroke-width="0.9"/>
<circle cx="728.8" cy="144.5" r="2.6" fill="none" stroke="#999" stroke-width="0.9"/>
<circle cx="722" cy="154" r="2.6" fill="none" stroke="#999" stroke-width="0.9"/>
<circle cx="728.8" cy="154" r="2.6" fill="none" stroke="#999" stroke-width="0.9"/>
<circle cx="722" cy="163.5" r="2.6" fill="none" stroke="#999" stroke-width="0.9"/>
<circle cx="728.8" cy="163.5" r="2.6" fill="none" stroke="#999" stroke-width="0.9"/>
<path d="M720,171 C720,180 716,186 704,187.5 L669.5,188" fill="none" stroke="#111" stroke-width="3.6"/>
<path d="M725,171 C724,181 718,189 704,190 L669.5,190.5" fill="none" stroke="#111" stroke-width="1.4"/>
<path d="M669.5,183 C664,182 660,182 655,182.5 L615,189.5 C597,193 590.5,200 590.5,214 L590.5,377" fill="none" stroke="#111" stroke-width="1.7"/>
<path d="M669.5,190.5 C663,189 660,188.5 655,188.5 L617,196 C602,199 597,204 597,214 L597,377" fill="none" stroke="#111" stroke-width="1.7"/>
<line x1="669.5" y1="183" x2="669.5" y2="190.5" stroke="#111" stroke-width="1.6"/>
<rect x="531.4" y="225.5" width="3.4" height="19" fill="#eee" stroke="#333" stroke-width="1"/>
<rect x="656.3" y="225.5" width="3.4" height="19" fill="#eee" stroke="#333" stroke-width="1"/>
<rect x="534.8" y="225.5" width="121.5" height="8" fill="#fff" stroke="#111" stroke-width="1.6"/>
<path d="M535,226 L564,226 C568,226 570,228 568,229 L560,232.5 L535,232.5 Z" fill="#111"/>
<path d="M656,226 L628,226 C624,226 622,228 624,229 L632,232.5 L656,232.5 Z" fill="#111"/>
<line x1="536" y1="229" x2="560" y2="229" stroke="#888" stroke-width="1"/>
<line x1="630" y1="229" x2="655" y2="229" stroke="#888" stroke-width="1"/>
<line x1="534.8" y1="226" x2="656.3" y2="226" stroke="#111" stroke-width="2.4"/>
<rect x="591.5" y="227" width="4.5" height="5" fill="#fff"/>
<path d="M549.9,282.6 Q552.5,278.6 555.1,282.6 L555.1,311 L549.9,311 Z" fill="#fff" stroke="#222" stroke-width="1.2"/>
<rect x="549.9" y="281.6" width="5.2" height="11.399999999999977" fill="#222"/>
<line x1="549.9" y1="284" x2="555.1" y2="284" stroke="#888" stroke-width="0.8"/>
<line x1="549.9" y1="287" x2="555.1" y2="287" stroke="#888" stroke-width="0.8"/>
<line x1="549.9" y1="290" x2="555.1" y2="290" stroke="#888" stroke-width="0.8"/>
<ellipse cx="552.5" cy="313" rx="5.5" ry="3" fill="#ddd" stroke="#222" stroke-width="1.2"/>
<ellipse cx="552.5" cy="313.3" rx="2.5" ry="1.2" fill="none" stroke="#555" stroke-width="0.8"/>
<path d="M636.6999999999999,280.4 Q639.3,276.4 641.9,280.4 L641.9,310 L636.6999999999999,310 Z" fill="#fff" stroke="#222" stroke-width="1.2"/>
<rect x="636.6999999999999" y="279.4" width="5.2" height="13.600000000000023" fill="#222"/>
<line x1="636.6999999999999" y1="282" x2="641.9" y2="282" stroke="#888" stroke-width="0.8"/>
<line x1="636.6999999999999" y1="285" x2="641.9" y2="285" stroke="#888" stroke-width="0.8"/>
<line x1="636.6999999999999" y1="288" x2="641.9" y2="288" stroke="#888" stroke-width="0.8"/>
<line x1="636.6999999999999" y1="291" x2="641.9" y2="291" stroke="#888" stroke-width="0.8"/>
<ellipse cx="639.3" cy="312" rx="5.5" ry="3" fill="#ddd" stroke="#222" stroke-width="1.2"/>
<ellipse cx="639.3" cy="312.3" rx="2.5" ry="1.2" fill="none" stroke="#555" stroke-width="0.8"/>
<path d="M656,299.6 C668,295 674,289 673,281 C671,272 657,268.5 640,269 C620,269.5 605,275 604,283 L605,289" fill="none" stroke="#111" stroke-width="1.9"/>
<path d="M601,288.5 L617,300.5 L611,285.5 Z" fill="#111"/>
<circle cx="492.4" cy="198.1" r="15" fill="none" stroke="#333" stroke-width="1.6"/>
<text x="492.4" y="206.9" font-size="26" font-family="Liberation Serif" fill="#222" text-anchor="middle">3</text>
<line x1="518.6" y1="191.7" x2="518.6" y2="206.4" stroke="#111" stroke-width="2.6"/>
<path d="M518.6,176 L515.3000000000001,193.7 L518.6,191.7 L521.9,193.7 Z" fill="#111"/>
<circle cx="492.7" cy="263" r="15" fill="none" stroke="#333" stroke-width="1.6"/>
<text x="492.7" y="271.8" font-size="26" font-family="Liberation Serif" fill="#222" text-anchor="middle">5</text>
<line x1="526" y1="259.2" x2="526" y2="244.6" stroke="#111" stroke-width="2.6"/>
<path d="M526,275.7 L522.7,257.2 L526,259.2 L529.3,257.2 Z" fill="#111"/>
<circle cx="680.7" cy="311" r="15" fill="none" stroke="#333" stroke-width="1.6"/>
<text x="680.7" y="319.8" font-size="26" font-family="Liberation Serif" fill="#222" text-anchor="middle">4</text>
<line x1="711.4" y1="306" x2="711.4" y2="320.4" stroke="#111" stroke-width="2.6"/>
<path d="M711.4,289.3 L708.1,308 L711.4,306 L714.6999999999999,308 Z" fill="#111"/>
<path d="M514.5,403.5 C514.5,385 550,376.3 591.5,376.3 C633,376.3 668.5,385 668.5,403.5" fill="none" stroke="#111" stroke-width="2"/>
<line x1="514.5" y1="403" x2="514.5" y2="437" stroke="#111" stroke-width="2"/>
<line x1="668.5" y1="403" x2="668.5" y2="437" stroke="#111" stroke-width="2"/>
<ellipse cx="591.5" cy="436.5" rx="77" ry="27.7" fill="#fff" stroke="#111" stroke-width="2"/>
<ellipse cx="521.7" cy="411" rx="2.6" ry="5" fill="none" stroke="#111" stroke-width="1.5"/>
<ellipse cx="662" cy="410" rx="2.6" ry="5" fill="none" stroke="#111" stroke-width="1.5"/>
<path d="M474.4,411.8 L504.6,411.8 L509.6,414 L504.6,416.2 L474.4,416.2 Z" fill="#fff" stroke="#333" stroke-width="1"/>
<rect x="494.6" y="411.8" width="10" height="4.4" fill="#444"/>
<ellipse cx="474.4" cy="414" rx="2.8" ry="5.3" fill="#ccc" stroke="#333" stroke-width="1"/>
<path d="M706,410.8 L676.4,410.8 L671.4,413 L676.4,415.2 L706,415.2 Z" fill="#fff" stroke="#333" stroke-width="1"/>
<rect x="676.4" y="410.8" width="10" height="4.4" fill="#444"/>
<ellipse cx="706" cy="413" rx="2.8" ry="5.3" fill="#ccc" stroke="#333" stroke-width="1"/>
<ellipse cx="593" cy="437" rx="8" ry="3" fill="#111"/>
<ellipse cx="593" cy="437.5" rx="3" ry="1.5" fill="#ddd"/>
<line x1="589.8" y1="438" x2="589.8" y2="477" stroke="#111" stroke-width="1.7"/>
<line x1="596.7" y1="438" x2="596.7" y2="477" stroke="#111" stroke-width="1.7"/>
<line x1="589.8" y1="511" x2="589.8" y2="582" stroke="#111" stroke-width="1.7"/>
<line x1="596.7" y1="511" x2="596.7" y2="582" stroke="#111" stroke-width="1.7"/>
<circle cx="751" cy="386.9" r="15" fill="none" stroke="#333" stroke-width="1.6"/>
<text x="751" y="395.7" font-size="26" font-family="Liberation Serif" fill="#222" text-anchor="middle">6</text>
<circle cx="751" cy="446.5" r="15" fill="none" stroke="#333" stroke-width="1.6"/>
<text x="751" y="455.3" font-size="26" font-family="Liberation Serif" fill="#222" text-anchor="middle">2</text>
<line x1="722.8" y1="380" x2="722.8" y2="445" stroke="#111" stroke-width="1.8"/>
<path d="M722.8,370.2 L719.6,384 L726,384 Z" fill="#111"/>
<path d="M722.8,455 L719.6,441 L726,441 Z" fill="#111"/>
<path d="M580.3,476 L607.7,476 L607.7,481.5 L603.4,511.6 L584.5,511.6 L580.3,481.5 Z" fill="#fff" stroke="#555" stroke-width="1.4"/>
<line x1="580.3" y1="481.5" x2="607.7" y2="481.5" stroke="#555" stroke-width="1.2"/>
<line x1="589.8" y1="476.5" x2="589.8" y2="481" stroke="#111" stroke-width="1.5"/>
<line x1="596.7" y1="476.5" x2="596.7" y2="481" stroke="#111" stroke-width="1.5"/>
<path d="M579,510 C570,509 566,512 566,516 C566,521 578,524 593.5,524 C609,524 621.4,521 621.4,516 C621.4,512 617,510 610,509" fill="none" stroke="#111" stroke-width="1.9"/>
<path d="M568,509 L578.5,505 L575,512 Z" fill="#111"/>
<path d="M620,509.5 L610,505.5 L613,512 Z" fill="#111"/>
<circle cx="521.6" cy="509" r="15" fill="none" stroke="#333" stroke-width="1.6"/>
<text x="521.6" y="517.8" font-size="26" font-family="Liberation Serif" fill="#222" text-anchor="middle">1</text>
<line x1="550.2" y1="512" x2="550.2" y2="493.8" stroke="#111" stroke-width="2.2"/>
<path d="M550.2,524 L547.4000000000001,510 L550.2,512 L553.0,510 Z" fill="#111"/>
<circle cx="665.6" cy="505.3" r="15" fill="none" stroke="#333" stroke-width="1.6"/>
<text x="665.6" y="514.1" font-size="26" font-family="Liberation Serif" fill="#222" text-anchor="middle">7</text>
<line x1="639.5" y1="509" x2="639.5" y2="527.6" stroke="#111" stroke-width="2.2"/>
<path d="M639.5,497.2 L636.7,511 L639.5,509 L642.3,511 Z" fill="#111"/>
<rect x="585" y="586" width="16" height="22" fill="#fff"/>
<line x1="551.6" y1="580" x2="640.3" y2="598.6" stroke="#111" stroke-width="2"/>
<line x1="551.6" y1="604.5" x2="640.3" y2="623" stroke="#111" stroke-width="2"/>
<line x1="589.2" y1="613" x2="589.2" y2="783" stroke="#111" stroke-width="1.6"/>
<line x1="597" y1="614" x2="597" y2="783" stroke="#111" stroke-width="1.6"/>
<path d="M589,793 L589,783 Q593,780 597.5,783 L597.5,793" fill="#fff" stroke="#111" stroke-width="1.4"/>
<circle cx="593" cy="815.3" r="22.6" fill="#fff" stroke="#111" stroke-width="1.5"/>
<path d="M575.5,863.5 L575.5,832 Q593,823 608.8,832 L608.8,863.5 Q593,866 575.5,863.5 Z" fill="#fff" stroke="#111" stroke-width="1.5"/>
<path d="M575.5,863.5 L570.7,880 M614,880 L608.8,863.5" fill="none" stroke="#111" stroke-width="1.5"/>
<path d="M563.4,887 L563.4,881 Q592,876 621.5,881 L621.5,887" fill="none" stroke="#111" stroke-width="1.4"/>
<path d="M545.3,897.7 L545.3,891 Q592,884 639.6,891 L639.6,897.7" fill="none" stroke="#111" stroke-width="1.4"/>
<path d="M537.4,907.4 L537.4,900 Q592,893 650.8,900 L650.8,907.4 Q592,903 537.4,907.4 Z" fill="none" stroke="#111" stroke-width="1.4"/>
<path d="M537.4,907.4 L482,939 Q480,941 481,943 M705.6,946 L704,940 L650.8,907.4" fill="none" stroke="#111" stroke-width="1.7"/>
<path d="M481,943 Q593,953 705.6,946" fill="none" stroke="#111" stroke-width="1.2"/>
<path d="M481,943 L465.7,980 Q470,990 520,997 Q593,1006 660,998 Q712,992 718.3,983 L705.6,946" fill="none" stroke="#111" stroke-width="1.8"/>
<line x1="592" y1="1027" x2="592" y2="1033" stroke="#222" stroke-width="1.5"/>
<line x1="592" y1="1027" x2="592" y2="1038" stroke="#222" stroke-width="2"/>
<line x1="592" y1="1045.6" x2="592" y2="1063" stroke="#222" stroke-width="2"/>
<line x1="592" y1="1072" x2="592" y2="1092" stroke="#222" stroke-width="2"/>
<line x1="592" y1="1103" x2="592" y2="1118" stroke="#222" stroke-width="2"/>
<line x1="592" y1="1127.5" x2="592" y2="1149" stroke="#222" stroke-width="2"/>
<line x1="592" y1="1158" x2="592" y2="1179" stroke="#222" stroke-width="2"/>
<line x1="592" y1="1189" x2="592" y2="1209" stroke="#222" stroke-width="2"/>
<line x1="592" y1="1220" x2="592" y2="1240" stroke="#222" stroke-width="2"/>
<line x1="592" y1="1251.5" x2="592" y2="1261" stroke="#222" stroke-width="2"/>
<line x1="592" y1="1268.7" x2="592" y2="1304.5" stroke="#222" stroke-width="2"/>
<line x1="592" y1="1323.7" x2="592" y2="1354" stroke="#222" stroke-width="2"/>
<path d="M737,180 L789.5,266.5" fill="none" stroke="#111" stroke-width="1.6"/>
<path d="M737,180 L789.5,302" fill="none" stroke="#111" stroke-width="1.5"/>
<polyline points="789.5,266.5 789.5,189.2 1044.4,189.2 1044.4,426.7 789.5,426.7 789.5,302" fill="none" stroke="#222" stroke-width="1.9"/>
<clipPath id="insc"><rect x="790.5" y="190.2" width="253" height="235.5"/></clipPath>
<g clip-path="url(#insc)"><g transform="translate(830,230) scale(0.16015)" fill="none" stroke="#333" stroke-width="8" stroke-linejoin="round">
<path d="M1320,-290 L850,90" stroke-width="10"/>
<path d="M1330,-150 L940,130" stroke-width="10"/>
<path d="M850,90 Q900,115 940,130" stroke-width="7"/>
<path d="M560,80 Q600,40 650,75 L1055,365 Q1110,405 1075,455 L700,1030 Q655,1090 600,1050 L130,710 Q75,665 115,615 Z" fill="#fff" stroke-width="7"/>
<path d="M850,92 C760,130 680,160 590,175 M880,112 C790,150 700,185 600,205" stroke-width="6"/>
<path d="M862,105 L765,280 M890,120 L795,295" stroke-width="6"/>
<path d="M930,128 L885,420 M955,135 L912,430" stroke-width="6"/>
<path d="M730,285 L800,318 L785,345 L715,310 Z" fill="#fff" stroke-width="6"/>
<path d="M250,470 L250,525 L385,615 L632,295 L632,240 L510,170 Z" fill="#fff" stroke-width="8"/>
<path d="M250,470 L385,560 L632,240 M385,560 L385,615" stroke-width="7"/>
<path d="M420,600 L420,655 L540,735 L785,405 L785,350 L660,290 Z" fill="#fff" stroke-width="8"/>
<path d="M420,600 L540,680 L785,350 M540,680 L540,735" stroke-width="7"/>
<path d="M590,720 L590,775 L720,845 L962,535 L962,480 L830,410 Z" fill="#fff" stroke-width="8"/>
<path d="M590,720 L720,790 L962,480 M720,790 L720,845" stroke-width="7"/>
<circle cx="510" cy="270" r="55" stroke-width="6" stroke="#555"/>
<circle cx="425" cy="395" r="55" stroke-width="6" stroke="#555"/>
<circle cx="670" cy="385" r="55" stroke-width="6" stroke="#555"/>
<circle cx="580" cy="505" r="55" stroke-width="6" stroke="#555"/>
<circle cx="835" cy="510" r="55" stroke-width="6" stroke="#555"/>
<circle cx="760" cy="625" r="55" stroke-width="6" stroke="#555"/>
<path d="M271,-259 L295,-110 Q305,-70 337,-62 L411,-62 Q438,-72 445,-110 L448,-259" fill="#fff" stroke-width="9"/>
<path d="M337,-62 L343,36 L398,36 L411,-62 M330,-20 L415,-20" fill="#fff" stroke-width="8"/>
<path d="M348,36 L365,540 L385,540 L398,36" fill="#fff" stroke-width="8"/>
<path d="M470,330 C560,380 500,450 360,450 C240,450 200,410 215,370 C225,340 255,325 290,318" stroke="#111" stroke-width="12"/>
<path d="M250,330 L305,300 L295,340 Z" fill="#111" stroke="#111" stroke-width="4"/>
<path d="M460,345 L515,360 L490,330 Z" fill="#111" stroke="#111" stroke-width="4"/>
<path d="M240,625 L190,705 L240,740" stroke="#111" stroke-width="20" stroke-linejoin="miter" stroke-linecap="butt"/>
<circle cx="400" cy="790" r="60" fill="#fff" stroke="#222" stroke-width="9"/>
<path d="M420,740 L420,790 M375,780 L445,805 M375,800 L430,818 M380,820 L415,832" stroke="#222" stroke-width="7"/>
<path d="M515,945 L575,855 L570,955 L640,880" stroke="#111" stroke-width="20" stroke-linejoin="miter"/>
<path d="M-244,1220 L-60,1044 M-134,1228 L-16,1095 M-60,1044 L-16,1095" stroke="#333" stroke-width="9"/>
<path d="M-45,1058 L145,895 M-35,1072 L195,925 M-25,1085 L210,985" stroke="#555" stroke-width="22"/>
<path d="M-45,1058 L145,895 M-35,1072 L195,925 M-25,1085 L210,985" stroke="#ddd" stroke-width="6"/>
<path d="M120,915 L170,875 M170,945 L220,905 M185,995 L235,970" stroke="#111" stroke-width="30" stroke-linecap="butt"/>
<path d="M165,870 C200,820 190,780 232,748 M215,915 C270,890 320,880 370,868 M240,985 C300,975 360,970 430,968" stroke="#e23a35" stroke-width="6"/>
<path d="M200,760 L235,745 L232,785 M335,855 L372,866 L345,895 M395,945 L432,968 L395,990" stroke="#e23a35" stroke-width="6"/>
</g></g>
<g fill="none" stroke="#e9bd00" stroke-width="8.7">
<line x1="828.2" y1="40.1" x2="828.2" y2="72"/>
<circle cx="842.4" cy="72.1" r="14.25"/>
<circle cx="884" cy="72.2" r="14.3" stroke-width="8.2"/>
<line x1="899.6" y1="53" x2="899.6" y2="90.6" stroke-width="4.6"/>
<path d="M914.95,91.7 L914.95,67.3 A9.449999999999989,9.449999999999989 0 0 1 933.85,67.3 L933.85,91.7 M933.85,67.3 A9.449999999999989,9.449999999999989 0 0 1 952.75,67.3 L952.75,91.7 M914.95,53.5 L914.95,67.3"/>
<path d="M968.3,54.1 L968.3,75.3 A11.85,11.85 0 0 0 992,75.3 L992,54.1 M992,70 L992,93 Q992,100.3 983,100.3 L973,100.3" stroke-width="9.4"/>
<path d="M1008.55,54.3 L1008.55,75.9 A11.57,11.57 0 0 0 1031.7,75.9 L1031.7,54.3 M1031.7,70 L1031.7,91.7"/>
<path d="M1048.6,91.7 L1048.6,67.3 A9.325000000000045,9.325000000000045 0 0 1 1067.25,67.3 L1067.25,91.7 M1067.25,67.3 A9.25,9.25 0 0 1 1085.75,67.3 L1085.75,91.7 M1048.6,53.5 L1048.6,67.3"/>
</g>
<circle cx="873.8" cy="62.3" r="1.8" fill="#fff"/>
<circle cx="870.7" cy="72.6" r="1.8" fill="#fff"/>
<circle cx="873.8" cy="81.8" r="1.8" fill="#fff"/>
<text x="837.5" y="131.5" font-size="27" font-family="Liberation Sans" fill="#141414" textLength="248.2" lengthAdjust="spacingAndGlyphs" stroke="#141414" stroke-width="0.35">Montageanleitungen</text>
<text x="829.8" y="161.9" font-size="27" font-family="Liberation Sans" fill="#141414" textLength="269.4" lengthAdjust="spacingAndGlyphs" stroke="#141414" stroke-width="0.35">Assembly Instructions</text>
<rect x="757" y="708.8" width="282" height="100.20000000000005" fill="none" stroke="#444" stroke-width="2.2" stroke-dasharray="6 4"/>
<text x="773.5" y="732.7" font-size="23.5" font-family="Liberation Sans" fill="#1e1e1e" textLength="238.0" lengthAdjust="spacingAndGlyphs" stroke="#1e1e1e" stroke-width="0.45">Glühbirne nicht enthalten</text>
<text x="773.5" y="765.8" font-size="23.5" font-family="Liberation Sans" fill="#1e1e1e" textLength="164.0" lengthAdjust="spacingAndGlyphs" stroke="#1e1e1e" stroke-width="0.45">Bulb not included</text>
<circle cx="984.1" cy="771.7" r="29.2" fill="none" stroke="#9a7072" stroke-width="1.6"/>
<line x1="969.6" y1="747.8" x2="998" y2="796.2" stroke="#9a7072" stroke-width="1.6"/>
<line x1="994.8" y1="746.4" x2="971" y2="796.2" stroke="#9a7072" stroke-width="1.6"/>
<path d="M978.5,779 C976,772 972.5,769 972.5,763.5 C972.5,756 978,752.8 984,752.8 C990,752.8 995.5,756 995.5,763.5 C995.5,769 992,772 989.5,779" fill="none" stroke="#555" stroke-width="1.4"/>
<path d="M978,778.5 L990,778.5 L990,787 Q984,793 978,787 Z" fill="#333"/>
<rect x="27.1" y="1044.1" width="310.29999999999995" height="226.4000000000001" fill="none" stroke="#333" stroke-width="2.4" stroke-dasharray="8 4"/>
<text x="39.4" y="1066.9" font-size="17.2" font-family="Liberation Sans" fill="#1a1a1a" textLength="281.0" lengthAdjust="spacingAndGlyphs" stroke="#1a1a1a" stroke-width="0.3">RsP-Informationen RsP information:</text>
<text x="39.4" y="1091.0" font-size="17.2" font-family="Liberation Sans" fill="#1a1a1a" textLength="124.4" lengthAdjust="spacingAndGlyphs" stroke="#1a1a1a" stroke-width="0.3">C&amp;E Connection</text>
<text x="39.4" y="1116.1" font-size="17.2" font-family="Liberation Sans" fill="#1a1a1a" textLength="192.7" lengthAdjust="spacingAndGlyphs" stroke="#1a1a1a" stroke-width="0.3">E-Commerce (DE) GmbH</text>
<text x="39.4" y="1140.3" font-size="17.2" font-family="Liberation Sans" fill="#1a1a1a" textLength="216.9" lengthAdjust="spacingAndGlyphs" stroke="#1a1a1a" stroke-width="0.3">Zum Linnegraben 20, 65933,</text>
<text x="39.4" y="1165.0" font-size="17.2" font-family="Liberation Sans" fill="#1a1a1a" textLength="223.6" lengthAdjust="spacingAndGlyphs" stroke="#1a1a1a" stroke-width="0.3">Frankfurt am Main, Germany</text>
<text x="39.4" y="1189.7" font-size="17.2" font-family="Liberation Sans" fill="#1a1a1a" textLength="174.0" lengthAdjust="spacingAndGlyphs" stroke="#1a1a1a" stroke-width="0.3">info@ce-connection.de</text>
<text x="39.4" y="1214.0" font-size="17.2" font-family="Liberation Sans" fill="#1a1a1a" textLength="138.7" lengthAdjust="spacingAndGlyphs" stroke="#1a1a1a" stroke-width="0.3">+49 017 46508451</text>
<text x="39.4" y="1244.5" font-size="17.2" font-family="Liberation Sans" fill="#1a1a1a" textLength="67.1" lengthAdjust="spacingAndGlyphs" stroke="#1a1a1a" stroke-width="0.3">50-60 Hz</text>
<rect x="660" y="1063.5" width="447.20000000000005" height="203.9000000000001" fill="none" stroke="#333" stroke-width="2.4" stroke-dasharray="8 4"/>
<text x="666.7" y="1085.2" font-size="13.8" font-family="Liberation Sans" font-weight="bold" fill="#262626" textLength="196.3" lengthAdjust="spacingAndGlyphs" >Hersteller / MANUFACTURER:</text>
<text x="666.7" y="1108.9" font-size="13.8" font-family="Liberation Sans" font-weight="bold" fill="#262626" textLength="428.9" lengthAdjust="spacingAndGlyphs" >TEKNOLUKS AYDINLATMA SANAYİ VE TİCARET ANONİM ŞİRKETİ</text>
<text x="666.7" y="1131.7" font-size="13.8" font-family="Liberation Sans" font-weight="bold" fill="#262626" textLength="324.3" lengthAdjust="spacingAndGlyphs" >Maltepe Mah. Gümüşsuyu Cad. Dalgıç İşhanı No:3</text>
<text x="666.7" y="1155.4" font-size="13.8" font-family="Liberation Sans" font-weight="bold" fill="#262626" textLength="309.2" lengthAdjust="spacingAndGlyphs" >Giriş Katı 2 ZEYTİNBURNU/İSTANBUL/TÜRKİYE</text>
<text x="666.7" y="1178.7" font-size="13.8" font-family="Liberation Sans" font-weight="bold" fill="#262626" textLength="100.3" lengthAdjust="spacingAndGlyphs" >+902122434400</text>
<text x="666.7" y="1200.6" font-size="13.8" font-family="Liberation Sans" font-weight="bold" fill="#262626" textLength="139.1" lengthAdjust="spacingAndGlyphs" >info@teknolux.com.tr</text>
<text x="666.7" y="1248.8" font-size="13.8" font-family="Liberation Sans" font-weight="bold" fill="#262626" textLength="246.7" lengthAdjust="spacingAndGlyphs" >Hergestellt in Turkey / Made in Turkey</text>
<circle cx="63.2" cy="1327.5" r="36.3" fill="none" stroke="#151515" stroke-width="2.1"/>
<g transform="translate(25,1290) scale(0.06761)" fill="none" stroke="#151515" stroke-width="28" stroke-linejoin="round" stroke-linecap="round">
<path d="M262,578 C262,420 400,288 540,288 C580,288 610,292 640,300"/>
<path d="M262,578 L850,578 L848,520 M800,455 C790,430 770,405 745,395"/>
<path d="M400,578 C400,480 415,390 440,318 M550,578 L540,292 M720,578 C715,520 705,470 695,420"/>
<path d="M565,578 L565,850 C565,900 530,920 495,920 C460,920 425,890 425,850"/>
<path d="M685,200 C660,240 635,300 635,350 C635,390 660,410 690,410 C720,410 740,385 740,350 C740,300 710,240 685,200 Z"/>
<path d="M800,232 C785,255 778,275 778,295 C778,315 790,325 802,325 C815,325 828,315 828,295 C828,275 815,255 800,232 Z"/>
<path d="M850,355 C830,385 815,410 815,440 C815,465 830,480 850,480 C870,480 885,465 885,440 C885,410 870,385 850,355 Z"/>
</g>
<text x="63.3" y="1382.3" font-size="16.5" font-family="Liberation Sans" font-weight="bold" fill="#161616" textLength="35.2" lengthAdjust="spacingAndGlyphs" text-anchor="middle" >IP20</text>
<circle cx="184" cy="1326.4" r="35.4" fill="none" stroke="#151515" stroke-width="2.3"/>
<path d="M169.2,1295.1 Q171.3,1300 171.3,1305.4 L171.3,1315 L196.2,1315 L196.2,1305.4 Q196.2,1300 198.4,1295.1" fill="none" stroke="#151515" stroke-width="1.9"/>
<line x1="171.3" y1="1305.4" x2="196.2" y2="1305.4" stroke="#151515" stroke-width="1.9"/>
<path d="M176.3,1293.5 L179.5,1305 M191.6,1293.5 L188.8,1305" stroke="#151515" stroke-width="1.5"/>
<path d="M173.5,1315.5 L173.5,1324 Q174,1328 179,1328.5 L189,1328.5 Q194,1328 194.1,1324 L194.1,1315.5" fill="none" stroke="#151515" stroke-width="1.9"/>
<path d="M175,1319 L193,1319 M175,1322 L193,1322" stroke="#555" stroke-width="1.2"/>
<rect x="178" y="1328" width="11" height="2.5" fill="#151515"/>
<text x="183.8" y="1350.6" font-size="16" font-family="Liberation Sans" font-weight="bold" fill="#151515" textLength="24.2" lengthAdjust="spacingAndGlyphs" text-anchor="middle" >E27</text>
<text x="135.7" y="1381.7" font-size="16.5" font-family="Liberation Sans" font-weight="bold" fill="#161616" textLength="95.6" lengthAdjust="spacingAndGlyphs" >Fassung E27</text>
<path d="M286.7,1323 L303.5,1313 L312.3,1328.6 Q322,1308 337.2,1292.5 L347,1291 L346.5,1301 L349.6,1306.8 Q330,1320 312.9,1344.1 Q302,1333 286.7,1323 Z" fill="#141414"/>
<text x="321.2" y="1358.5" font-size="20.5" font-family="Liberation Sans" font-weight="bold" fill="#141414" textLength="61.5" lengthAdjust="spacingAndGlyphs" text-anchor="middle" stroke="#141414" stroke-width="0.6">RoHS</text>
<text x="265.0" y="1383.4" font-size="14.8" font-family="Liberation Sans" font-weight="bold" fill="#161616" textLength="103.3" lengthAdjust="spacingAndGlyphs" >RoHS-Zertifikat</text>
<path d="M76.6,1417.4 A28.6,28.6 0 0 1 64.1,1471.7 M50.2,1468.1 A28.6,28.6 0 0 1 64.1,1414.5" fill="none" stroke="#141414" stroke-width="3.2"/>
<path d="M80,1402.2 L47.7,1448.2 L65.7,1444 L48.8,1483 L80.9,1438 L62.5,1441 Z" fill="#141414"/>
<text x="22.2" y="1502.4" font-size="15.5" font-family="Liberation Sans" font-weight="bold" fill="#161616" textLength="82.8" lengthAdjust="spacingAndGlyphs" >MAX 60Watt</text>
<circle cx="182.8" cy="1443" r="31.5" fill="none" stroke="#141414" stroke-width="4.6"/>
<text x="183.6" y="1452.3" font-size="24.5" font-family="Liberation Sans" font-weight="bold" fill="#141414" textLength="50.8" lengthAdjust="spacingAndGlyphs" text-anchor="middle" stroke="#141414" stroke-width="0.8">EMC</text>
<text x="127.5" y="1502.4" font-size="15.5" font-family="Liberation Sans" font-weight="bold" fill="#161616" textLength="107.5" lengthAdjust="spacingAndGlyphs" >EMC-Zertifikat</text>
<path d="M28.3,1541.8 L22.8,1541.8 L47.7,1516.3 L53.9,1522.6 L53.9,1517.7 L59,1517.7 L59,1527.8 L72.3,1541.8 L66.6,1541.8 L66.6,1562.3 L28.3,1562.3 Z" fill="none" stroke="#151515" stroke-width="2.6" stroke-linejoin="miter"/>
<rect x="81.3" y="1524.6" width="29.1" height="30.8" fill="none" stroke="#2a2a2a" stroke-width="2"/>
<rect x="89.5" y="1532" width="14.2" height="16.6" fill="none" stroke="#2a2a2a" stroke-width="2"/>
<path d="M146,1517.2 L144,1517.2 A19.2,19.2 0 0 0 144,1555.6 L146,1555.6" fill="none" stroke="#111" stroke-width="6"/>
<path d="M181.8,1517.2 L179.8,1517.2 A19.2,19.2 0 0 0 179.8,1555.6 L181.8,1555.6 M163,1536.4 L177,1536.4" fill="none" stroke="#111" stroke-width="6"/>
<line x1="196" y1="1514" x2="225.1" y2="1547.2" stroke="#555" stroke-width="1.4"/>
<line x1="196.7" y1="1547.2" x2="219" y2="1521" stroke="#555" stroke-width="1.4"/>
<path d="M204.2,1520.3 Q211.5,1514.5 219.1,1520.3 Z" fill="#333" stroke="#333" stroke-width="1"/>
<path d="M205,1521.5 L206.8,1543 L216.5,1543 L219.5,1521.5" fill="none" stroke="#555" stroke-width="1.3"/>
<circle cx="216.8" cy="1541.6" r="2.4" fill="#333"/>
<rect x="198.6" y="1554.5" width="25.8" height="7.1" fill="#0d0d0d"/>
<text x="245.0" y="1460.6" font-size="42" font-family="Liberation Sans" font-weight="bold" fill="#050505" textLength="270.0" lengthAdjust="spacingAndGlyphs" >BMM2015LTB</text>
<line x1="593" y1="1323" x2="593" y2="1356" stroke="#222" stroke-width="1.3"/>
<path d="M585.5,1362 Q586,1357.5 593,1357 Q600,1357.5 600.5,1362" fill="#fff" stroke="#333" stroke-width="1.3"/>
<path d="M567.7,1403.5 L567.7,1372 Q571,1364 580,1362.5 L606,1362.5 Q614,1364 617.2,1372 L617.2,1403.5" fill="#fff" stroke="#222" stroke-width="1.5"/>
<path d="M569,1369 Q592.5,1364 616,1369" fill="none" stroke="#444" stroke-width="1.4"/>
<path d="M567.7,1371.0 Q592.5,1373.5 617.2,1371.0" fill="none" stroke="#1e1e1e" stroke-width="1.9"/>
<path d="M567.7,1375.6 Q592.5,1378.1 617.2,1375.6" fill="none" stroke="#1e1e1e" stroke-width="1.9"/>
<path d="M567.7,1380.2 Q592.5,1382.7 617.2,1380.2" fill="none" stroke="#1e1e1e" stroke-width="1.9"/>
<path d="M567.7,1384.8 Q592.5,1387.3 617.2,1384.8" fill="none" stroke="#1e1e1e" stroke-width="1.9"/>
<path d="M567.7,1389.4 Q592.5,1391.9 617.2,1389.4" fill="none" stroke="#1e1e1e" stroke-width="1.9"/>
<path d="M567.7,1394.0 Q592.5,1396.5 617.2,1394.0" fill="none" stroke="#1e1e1e" stroke-width="1.9"/>
<path d="M567.7,1398.6 Q592.5,1401.1 617.2,1398.6" fill="none" stroke="#1e1e1e" stroke-width="1.9"/>
<path d="M567.7,1403.2 Q592.5,1405.7 617.2,1403.2" fill="none" stroke="#1e1e1e" stroke-width="1.9"/>
<path d="M567.7,1403.5 Q561.5,1405 561.5,1411 L561.5,1422 C561.5,1440 543.4,1455 543.4,1484 C543.4,1512 565,1532.5 592.5,1532.5 C620,1532.5 641.5,1512 641.5,1484 C641.5,1455 622.8,1440 622.8,1422 L622.8,1411 Q622.8,1405 617.2,1403.5" fill="#fff" stroke="#333" stroke-width="1.5"/>
<path d="M561.5,1410.5 Q592,1404 622.8,1410.5" fill="none" stroke="#333" stroke-width="1.2"/>
<path d="M561.2,1556.7 C566,1568 580,1572 597.6,1571.7 C615,1571.5 630,1566 630.5,1557" fill="none" stroke="#111" stroke-width="2"/>
<path d="M619,1541.8 L636,1550 L628.5,1553 L627,1560 Z" fill="#111"/>
<circle cx="474.3" cy="1522.2" r="15.2" fill="none" stroke="#333" stroke-width="1.6"/>
<text x="474.3" y="1531.0" font-size="25" font-family="Liberation Serif" fill="#222" text-anchor="middle">8</text>
<line x1="511.7" y1="1513" x2="511.7" y2="1533.4" stroke="#111" stroke-width="1.8"/>
<path d="M511.7,1502.6 L509.3,1515 L511.7,1513 L514.1,1515 Z" fill="#111"/>
<polyline points="773.6,1583.8 773.6,1319.4 1113.5,1319.4" fill="none" stroke="#333" stroke-width="1.8"/>
<rect x="773" y="1318.5" width="49.5" height="49" fill="#0a0a0a"/>
<path d="M811,1332 A14.2,17 0 1 0 811,1357" fill="none" stroke="#e0e0e0" stroke-width="1.4"/>
<g transform="translate(767.5,1298.8) scale(1.0)">
<line x1="33.5" y1="118.4" x2="62" y2="118.4" stroke="#555" stroke-width="1.3"/>
<line x1="33.5" y1="156.2" x2="62" y2="156.2" stroke="#444" stroke-width="2.4"/>
<line x1="240.7" y1="119.5" x2="261" y2="119.5" stroke="#555" stroke-width="1.3"/>
<line x1="240.7" y1="153.7" x2="261" y2="153.7" stroke="#444" stroke-width="2.4"/>
<path d="M77.3,90.5 L61.3,96.6 L61.3,118.8 L63.6,118.8 L63.6,156.2 L61.3,156.2 L61.3,182.9 L78.7,182.6 L235.3,179.5 L235.3,159 L240.7,158.8 L240.7,109.5 L233.2,109.5 L233.2,93.5 L231,91.8 Z" fill="#fff" stroke="#2a2a2a" stroke-width="1.3"/>
<line x1="77.3" y1="109" x2="233.2" y2="109.5" stroke="#2a2a2a" stroke-width="1.3"/>
<line x1="77.3" y1="90.5" x2="77.3" y2="109.2" stroke="#2a2a2a" stroke-width="1.2"/>
<line x1="96.3" y1="90.8" x2="96.3" y2="109.2" stroke="#2a2a2a" stroke-width="1.2"/>
<line x1="115" y1="91.2" x2="115" y2="109.2" stroke="#2a2a2a" stroke-width="1.2"/>
<line x1="133.4" y1="91.5" x2="133.4" y2="109.2" stroke="#2a2a2a" stroke-width="1.2"/>
<line x1="150.5" y1="91.9" x2="150.5" y2="109.2" stroke="#2a2a2a" stroke-width="1.2"/>
<line x1="166.5" y1="92.2" x2="166.5" y2="109.2" stroke="#2a2a2a" stroke-width="1.2"/>
<line x1="183.5" y1="92.6" x2="183.5" y2="109.2" stroke="#2a2a2a" stroke-width="1.2"/>
<line x1="200.6" y1="93.0" x2="200.6" y2="109.2" stroke="#2a2a2a" stroke-width="1.2"/>
<line x1="216.6" y1="93.3" x2="216.6" y2="109.2" stroke="#2a2a2a" stroke-width="1.2"/>
<line x1="233.2" y1="93.7" x2="233.2" y2="109.2" stroke="#2a2a2a" stroke-width="1.2"/>
<circle cx="86.9" cy="97.3" r="3.7" fill="#3a3a3a" stroke="#111" stroke-width="0.9"/>
<path d="M85.3,98.7 L88.1,95.7" stroke="#bbb" stroke-width="0.9"/>
<circle cx="105.7" cy="97.6" r="3.7" fill="#3a3a3a" stroke="#111" stroke-width="0.9"/>
<path d="M104.1,99.0 L106.9,96.0" stroke="#bbb" stroke-width="0.9"/>
<circle cx="124.3" cy="97.9" r="3.7" fill="#3a3a3a" stroke="#111" stroke-width="0.9"/>
<path d="M122.7,99.3 L125.5,96.3" stroke="#bbb" stroke-width="0.9"/>
<circle cx="142.4" cy="98.2" r="3.7" fill="#3a3a3a" stroke="#111" stroke-width="0.9"/>
<path d="M140.8,99.6 L143.6,96.6" stroke="#bbb" stroke-width="0.9"/>
<circle cx="158.5" cy="98.5" r="3.7" fill="#3a3a3a" stroke="#111" stroke-width="0.9"/>
<path d="M156.9,99.9 L159.7,96.9" stroke="#bbb" stroke-width="0.9"/>
<circle cx="174.5" cy="98.8" r="3.7" fill="#3a3a3a" stroke="#111" stroke-width="0.9"/>
<path d="M172.9,100.2 L175.7,97.2" stroke="#bbb" stroke-width="0.9"/>
<circle cx="192.6" cy="99.1" r="3.7" fill="#3a3a3a" stroke="#111" stroke-width="0.9"/>
<path d="M191.0,100.5 L193.8,97.5" stroke="#bbb" stroke-width="0.9"/>
<circle cx="208.6" cy="99.4" r="3.7" fill="#3a3a3a" stroke="#111" stroke-width="0.9"/>
<path d="M207.0,100.8 L209.8,97.8" stroke="#bbb" stroke-width="0.9"/>
<circle cx="224.7" cy="99.7" r="3.7" fill="#3a3a3a" stroke="#111" stroke-width="0.9"/>
<path d="M223.1,101.1 L225.9,98.1" stroke="#bbb" stroke-width="0.9"/>
<line x1="82.7" y1="159" x2="240.7" y2="158.8" stroke="#2a2a2a" stroke-width="1.3"/>
<line x1="82.7" y1="109" x2="82.7" y2="159" stroke="#2a2a2a" stroke-width="1.15"/>
<line x1="100.8" y1="109" x2="100.8" y2="159" stroke="#2a2a2a" stroke-width="1.15"/>
<line x1="120" y1="109" x2="120" y2="159" stroke="#2a2a2a" stroke-width="1.15"/>
<line x1="140.3" y1="109" x2="140.3" y2="159" stroke="#2a2a2a" stroke-width="1.15"/>
<line x1="158.5" y1="109" x2="158.5" y2="159" stroke="#2a2a2a" stroke-width="1.15"/>
<line x1="174.5" y1="109" x2="174.5" y2="159" stroke="#2a2a2a" stroke-width="1.15"/>
<line x1="192.6" y1="109" x2="192.6" y2="159" stroke="#2a2a2a" stroke-width="1.15"/>
<line x1="208.6" y1="109" x2="208.6" y2="159" stroke="#2a2a2a" stroke-width="1.15"/>
<line x1="225.7" y1="109" x2="225.7" y2="159" stroke="#2a2a2a" stroke-width="1.15"/>
<line x1="240.7" y1="109" x2="240.7" y2="159" stroke="#2a2a2a" stroke-width="1.15"/>
<path d="M84,122 L241,122 L241,141.5 L84,141.5 Z" fill="#161616"/>
<path d="M85.7,128 Q91.8,131.5 97.8,128 L97.8,136 Q91.8,133.5 85.7,136 Z" fill="#2e2e2e"/>
<path d="M99.8,124.5 Q103.3,131.8 99.8,139.5" fill="none" stroke="#9a9a9a" stroke-width="1.6"/>
<path d="M103.8,128 Q110.4,131.5 117.0,128 L117.0,136 Q110.4,133.5 103.8,136 Z" fill="#2e2e2e"/>
<path d="M119.0,124.5 Q122.5,131.8 119.0,139.5" fill="none" stroke="#9a9a9a" stroke-width="1.6"/>
<path d="M123.0,128 Q130.2,131.5 137.3,128 L137.3,136 Q130.2,133.5 123.0,136 Z" fill="#2e2e2e"/>
<path d="M139.3,124.5 Q142.8,131.8 139.3,139.5" fill="none" stroke="#9a9a9a" stroke-width="1.6"/>
<path d="M143.3,128 Q149.4,131.5 155.5,128 L155.5,136 Q149.4,133.5 143.3,136 Z" fill="#2e2e2e"/>
<path d="M157.5,124.5 Q161.0,131.8 157.5,139.5" fill="none" stroke="#9a9a9a" stroke-width="1.6"/>
<path d="M161.5,128 Q166.5,131.5 171.5,128 L171.5,136 Q166.5,133.5 161.5,136 Z" fill="#2e2e2e"/>
<path d="M173.5,124.5 Q177.0,131.8 173.5,139.5" fill="none" stroke="#9a9a9a" stroke-width="1.6"/>
<path d="M177.5,128 Q183.6,131.5 189.6,128 L189.6,136 Q183.6,133.5 177.5,136 Z" fill="#2e2e2e"/>
<path d="M191.6,124.5 Q195.1,131.8 191.6,139.5" fill="none" stroke="#9a9a9a" stroke-width="1.6"/>
<path d="M195.6,128 Q200.6,131.5 205.6,128 L205.6,136 Q200.6,133.5 195.6,136 Z" fill="#2e2e2e"/>
<path d="M207.6,124.5 Q211.1,131.8 207.6,139.5" fill="none" stroke="#9a9a9a" stroke-width="1.6"/>
<path d="M211.6,128 Q217.1,131.5 222.7,128 L222.7,136 Q217.1,133.5 211.6,136 Z" fill="#2e2e2e"/>
<path d="M224.7,124.5 Q228.2,131.8 224.7,139.5" fill="none" stroke="#9a9a9a" stroke-width="1.6"/>
<path d="M228.7,128 Q233.2,131.5 237.7,128 L237.7,136 Q233.2,133.5 228.7,136 Z" fill="#2e2e2e"/>
<path d="M239.7,124.5 Q243.2,131.8 239.7,139.5" fill="none" stroke="#9a9a9a" stroke-width="1.6"/>
<path d="M84,121.5 L84,127 Q86,124 88,127" fill="#fff"/>
<rect x="158.5" y="138" width="16" height="8.5" rx="2" fill="#161616"/>
<line x1="78.7" y1="159" x2="78.7" y2="182.6" stroke="#2a2a2a" stroke-width="1.15"/>
<line x1="97.4" y1="159" x2="97.4" y2="182.3" stroke="#2a2a2a" stroke-width="1.15"/>
<line x1="116" y1="159" x2="116" y2="181.9" stroke="#2a2a2a" stroke-width="1.15"/>
<line x1="134.7" y1="159" x2="134.7" y2="181.6" stroke="#2a2a2a" stroke-width="1.15"/>
<line x1="153" y1="159" x2="153" y2="181.3" stroke="#2a2a2a" stroke-width="1.15"/>
<line x1="170.5" y1="159" x2="170.5" y2="180.9" stroke="#2a2a2a" stroke-width="1.15"/>
<line x1="188" y1="159" x2="188" y2="180.6" stroke="#2a2a2a" stroke-width="1.15"/>
<line x1="201.5" y1="159" x2="201.5" y2="180.3" stroke="#2a2a2a" stroke-width="1.15"/>
<line x1="217.5" y1="159" x2="217.5" y2="180.0" stroke="#2a2a2a" stroke-width="1.15"/>
<line x1="235.3" y1="159" x2="235.3" y2="179.6" stroke="#2a2a2a" stroke-width="1.15"/>
<path d="M84.7,172.4 L84.7,181.9 M91.3,172.4 L91.3,181.9" stroke="#2a2a2a" stroke-width="1"/>
<circle cx="88" cy="172.4" r="4.2" fill="#3a3a3a" stroke="#111" stroke-width="0.9"/>
<path d="M86.2,174.0 L89.4,170.6" stroke="#bbb" stroke-width="0.9"/>
<path d="M102.8,171.8 L102.8,181.3 M109.4,171.8 L109.4,181.3" stroke="#2a2a2a" stroke-width="1"/>
<circle cx="106.1" cy="171.8" r="4.2" fill="#3a3a3a" stroke="#111" stroke-width="0.9"/>
<path d="M104.3,173.4 L107.5,170.0" stroke="#bbb" stroke-width="0.9"/>
<path d="M121.0,171.3 L121.0,180.8 M127.6,171.3 L127.6,180.8" stroke="#2a2a2a" stroke-width="1"/>
<circle cx="124.3" cy="171.3" r="4.2" fill="#3a3a3a" stroke="#111" stroke-width="0.9"/>
<path d="M122.5,172.9 L125.7,169.5" stroke="#bbb" stroke-width="0.9"/>
<path d="M140.2,170.8 L140.2,180.2 M146.8,170.8 L146.8,180.2" stroke="#2a2a2a" stroke-width="1"/>
<circle cx="143.5" cy="170.8" r="4.2" fill="#3a3a3a" stroke="#111" stroke-width="0.9"/>
<path d="M141.7,172.3 L144.9,168.9" stroke="#bbb" stroke-width="0.9"/>
<path d="M158.4,170.2 L158.4,179.7 M165.0,170.2 L165.0,179.7" stroke="#2a2a2a" stroke-width="1"/>
<circle cx="161.7" cy="170.2" r="4.2" fill="#3a3a3a" stroke="#111" stroke-width="0.9"/>
<path d="M159.9,171.8 L163.1,168.4" stroke="#bbb" stroke-width="0.9"/>
<path d="M206.4,168.6 L206.4,178.1 M213.0,168.6 L213.0,178.1" stroke="#2a2a2a" stroke-width="1"/>
<circle cx="209.7" cy="168.6" r="4.2" fill="#3a3a3a" stroke="#111" stroke-width="0.9"/>
<path d="M207.9,170.2 L211.1,166.8" stroke="#bbb" stroke-width="0.9"/>
<path d="M222.4,168.0 L222.4,177.5 M229.0,168.0 L229.0,177.5" stroke="#2a2a2a" stroke-width="1"/>
<circle cx="225.7" cy="168.0" r="4.2" fill="#3a3a3a" stroke="#111" stroke-width="0.9"/>
<path d="M223.9,169.6 L227.1,166.2" stroke="#bbb" stroke-width="0.9"/>
<path d="M171,139.3 L171.4,150.3 L174.4,162.1 L177.8,175.6 L179.5,184 L183.7,199.2 L187,211 L203.5,209.3 L214,203.4 L209.8,196.7 L205.6,182.4 L199.7,172.2 L193.8,160.4 L190.4,151.1 L183.7,139.3 Z" fill="#fff"/>
<path d="M171,139.3 C171,144 171.2,148 171.4,150.3 C172.3,155 173.5,158.5 174.4,162.1 C176,167 177,172 177.8,175.6 C178.5,179 179,182 179.5,184 C181,190 182.3,194.5 183.7,199.2 C185,203 186,207 187,211" fill="none" stroke="#333" stroke-width="1.25" stroke-linecap="round"/>
<path d="M183.7,139.3 C186,143 188.5,147 190.4,151.1 C191.6,154.5 192.6,157.5 193.8,160.4 C195.8,164.5 197.7,168.5 199.7,172.2 C202,176 204,179.5 205.6,182.4 C207.5,187 208.8,192 209.8,196.7 C211,199.5 212.3,201.5 214,203.4 C216,205.5 218,207.3 220.8,208.5 C224,209.6 227,209.6 230.9,210.2 C235,211 239,213 241.9,216.1" fill="none" stroke="#333" stroke-width="1.25" stroke-linecap="round"/>
<path d="M182.8,205.1 C178,207.5 175,209.5 171.9,211.9 C168.5,214.5 166,216 165.1,217.8 C164.3,221 164.5,224 165.1,226.2 C166.5,230 168.5,234 171,237.2" fill="none" stroke="#333" stroke-width="1.25" stroke-linecap="round"/>
<path d="M171,222.8 C173,223.8 175,224.3 176.9,224.5 C179,224.7 181.5,224.9 183.7,224.9" fill="none" stroke="#333" stroke-width="1.25" stroke-linecap="round"/>
<path d="M169.3,251.5 C171.5,248 174,244 176.9,240.6 C179,238 181.5,235.8 183.7,235.5 C186,235.3 187.5,236.5 188.7,238 C190.5,240.5 191.5,243 193,244.8 C195,247.5 197,249.5 198.9,251.5" fill="none" stroke="#333" stroke-width="1.25" stroke-linecap="round"/>
<path d="M203.5,209.3 C204,217 204.5,224 204.3,230.4 C204,235 203.6,239 203.1,243.1 C202.6,247 201.8,251 201,255.3" fill="none" stroke="#333" stroke-width="1.25" stroke-linecap="round"/>
<path d="M173.2,133.5 Q175,128.8 179.5,130 Q184.5,131.5 184,136.5 Q183,140 179,139.3 Q174,138 173.2,133.5 Z" fill="#fff" stroke="#333" stroke-width="1.1"/>
</g>
<path d="M1064.4,1484.6 C1070,1460 1068,1440 1057,1422" fill="none" stroke="#3a3a3a" stroke-width="1.5"/>
<path d="M1051.5,1404.5 L1052,1430 L1063,1423.5 Z" fill="#111"/>
</svg>
</body></html>
